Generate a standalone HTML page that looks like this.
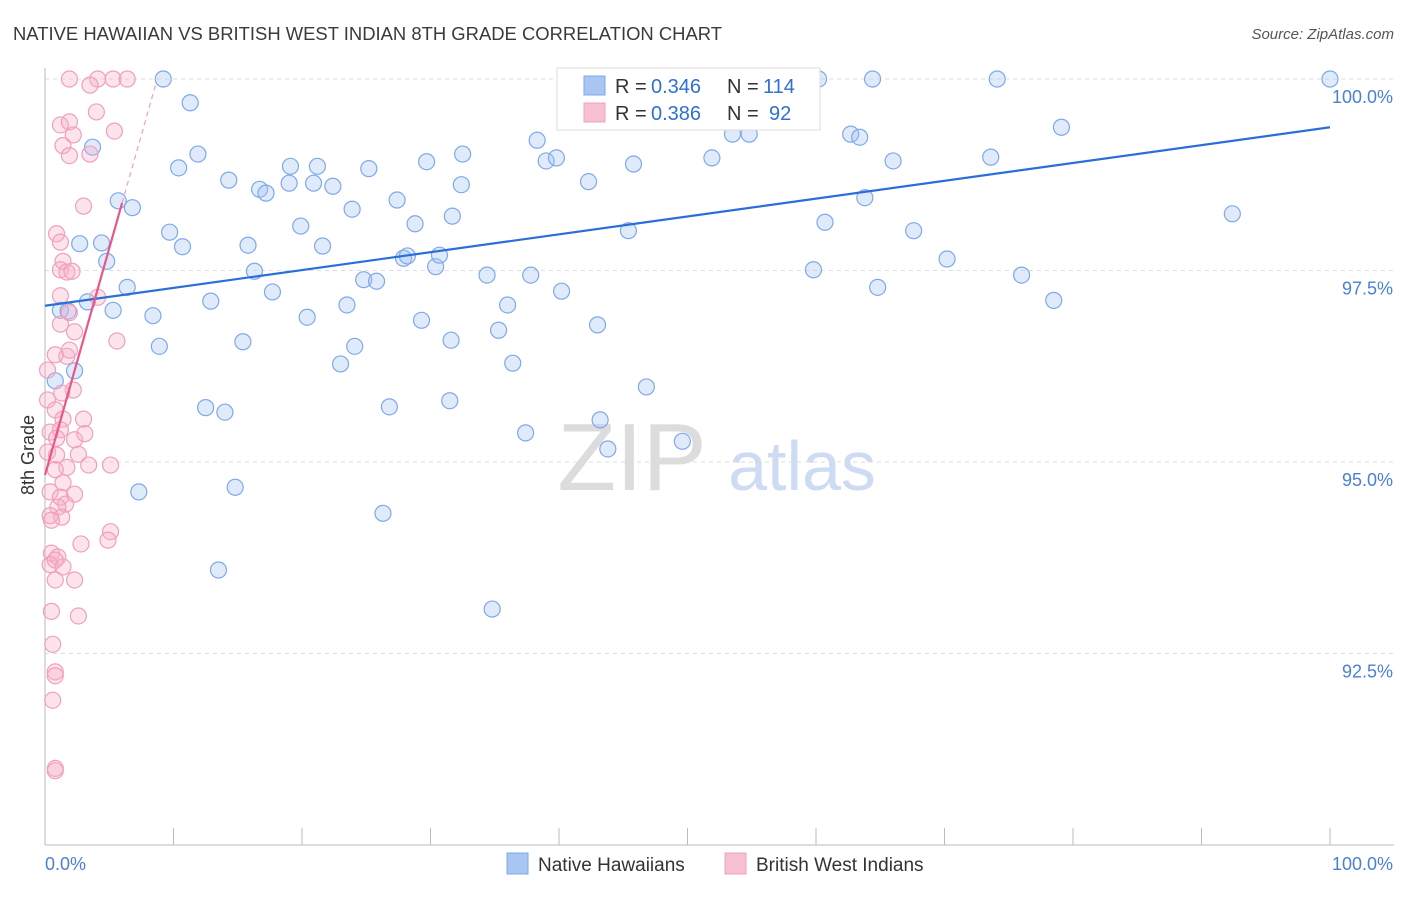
<!DOCTYPE html>
<html><head><meta charset="utf-8"><style>
body{margin:0;background:#fff;font-family:"Liberation Sans",sans-serif;}
svg text{font-family:"Liberation Sans",sans-serif;}
</style></head><body>
<svg id="c" width="1406" height="892">
<text x="13" y="40" font-size="18" fill="#3a3a3a" textLength="709" lengthAdjust="spacingAndGlyphs">NATIVE HAWAIIAN VS BRITISH WEST INDIAN 8TH GRADE CORRELATION CHART</text>
<text x="1394" y="39" font-size="15" fill="#555" text-anchor="end" font-style="italic">Source: ZipAtlas.com</text>
<g><text x="632" y="490" font-size="96" font-family="Liberation Serif" fill="#dcdcdc" text-anchor="middle">ZIP</text><text x="802" y="490" font-size="70" fill="#cddcf3" text-anchor="middle">atlas</text></g>
<g id="grid"></g><g id="axes"></g><g id="marks"></g>
<text transform="translate(34,455) rotate(-90)" font-size="18" fill="#333" text-anchor="middle">8th Grade</text>
<g>
<rect x="557" y="68" width="263" height="62" fill="#fff" stroke="#ddd"/>
<rect x="584" y="76" width="21" height="19" fill="#a9c6f3" stroke="#7fa9e8"/>
<rect x="584" y="103" width="21" height="19" fill="#f7bfd2" stroke="#f0a0bc"/>
<text x="615" y="93" font-size="20" fill="#333">R =</text>
<text x="651" y="93" font-size="20" fill="#2f6fd6">0.346</text>
<text x="727" y="93" font-size="20" fill="#333">N =</text>
<text x="763" y="93" font-size="20" fill="#2f6fd6">114</text>
<text x="615" y="120" font-size="20" fill="#333">R =</text>
<text x="651" y="120" font-size="20" fill="#2f6fd6">0.386</text>
<text x="727" y="120" font-size="20" fill="#333">N =</text>
<text x="769" y="120" font-size="20" fill="#2f6fd6">92</text>
</g>
<g>
<rect x="507" y="853" width="21" height="21" fill="#a9c6f3" stroke="#7fa9e8"/>
<text x="538" y="871" font-size="19" fill="#333">Native Hawaiians</text>
<rect x="725" y="853" width="21" height="21" fill="#f7bfd2" stroke="#f0a0bc"/>
<text x="756" y="871" font-size="19" fill="#333">British West Indians</text>
</g>
</svg>
<script>
const yTicks=[100,97.5,95,92.5];
const yTickLabels=["100.0%","97.5%","95.0%","92.5%"];
const xTicks=[0,10,20,30,40,50,60,70,80,90,100];
const xTickLabels=["0.0%","100.0%"];
const blueX=[9.2,11.3,3.7,10.4,11.9,14.3,16.7,17.2,19.0,19.1,20.9,21.2,22.4,25.2,27.4,29.7,32.5,32.4,38.3,39.0,39.8,42.3,45.8,51.9,53.5,54.8,62.7,63.4,66.0,73.6,79.1,92.4,41.6,46.3,47.9,51.0,59.4,60.2,64.4,74.1,100,5.7,6.8,2.7,4.4,9.7,10.7,15.8,19.9,21.6,23.9,28.8,31.7,45.4,60.7,63.8,67.6,70.2,76.0,78.5,64.8,59.8,4.8,6.4,1.2,1.8,3.3,5.3,8.4,8.9,12.9,15.4,16.3,17.7,20.4,23.5,24.1,24.8,25.8,27.9,28.2,29.3,30.4,30.7,31.6,34.4,35.3,36.0,36.4,37.8,40.2,43.0,46.8,23.0,2.3,0.8,12.5,14.0,26.8,31.5,37.4,43.2,43.8,49.6,7.3,14.8,26.3,13.5,34.8];
const blueY=[100,99.69,99.11,98.84,99.02,98.68,98.56,98.51,98.64,98.86,98.64,98.86,98.60,98.83,98.42,98.92,99.02,98.62,99.20,98.93,98.97,98.66,98.89,98.97,99.28,99.28,99.28,99.24,98.93,98.98,99.37,98.24,100,100,100,100,100,100,100,100,100,98.41,98.32,97.85,97.86,98.00,97.81,97.83,98.08,97.82,98.30,98.11,98.21,98.02,98.13,98.45,98.02,97.65,97.44,97.11,97.28,97.51,97.62,97.28,96.98,96.97,97.09,96.98,96.91,96.51,97.10,96.57,97.49,97.22,96.89,97.05,96.51,97.38,97.36,97.66,97.69,96.85,97.55,97.70,96.59,97.44,96.72,97.05,96.29,97.44,97.23,96.79,95.98,96.28,96.19,96.06,95.71,95.65,95.72,95.80,95.38,95.55,95.17,95.27,94.61,94.67,94.33,93.59,93.08];
const pinkX=[1.9,4.1,5.3,6.4,3.5,4.0,1.2,1.9,2.2,5.4,1.4,1.9,3.5,3.0,0.9,1.2,1.4,1.2,1.7,2.1,1.2,4.1,1.9,1.2,2.3,1.7,0.8,1.9,5.6,0.2,2.2,1.3,0.2,0.8,1.4,3.0,0.4,1.2,0.9,2.3,3.1,0.2,0.9,2.6,1.7,3.4,5.1,0.8,1.4,0.4,1.2,2.3,1.6,1.0,0.4,1.3,0.5,2.8,5.1,4.9,0.5,1.0,0.4,0.8,1.4,2.3,0.8,0.5,2.6,0.6,0.8,0.8,0.6,0.8,0.8];
const pinkY=[100,100,100,100,99.92,99.57,99.40,99.44,99.27,99.32,99.13,99.00,99.02,98.34,97.98,97.87,97.62,97.51,97.48,97.49,97.17,97.15,96.95,96.80,96.70,96.38,96.40,96.46,96.58,96.20,95.94,95.90,95.81,95.68,95.56,95.56,95.39,95.42,95.31,95.29,95.37,95.13,95.09,95.10,94.93,94.96,94.96,94.90,94.73,94.61,94.54,94.58,94.45,94.41,94.30,94.28,94.24,93.93,94.09,93.98,93.81,93.76,93.66,93.72,93.63,93.46,93.46,93.05,92.99,92.62,92.26,92.21,91.89,91.00,90.97];
const blueLine=[97.04,99.37];
const pinkLine=[94.83,0.592];
const NS="http://www.w3.org/2000/svg";
const X=v=>45+v*12.85, Y=v=>79+(100-v)*76.6;
function mk(tag,attrs,parent){const e=document.createElementNS(NS,tag);for(const k in attrs)e.setAttribute(k,attrs[k]);document.getElementById(parent).appendChild(e);return e;}
yTicks.forEach((t,i)=>{
 const g=mk('line',{x1:45,x2:1394,y1:Y(t),y2:Y(t),stroke:'#ddd','stroke-dasharray':'4,4'},'grid');
 
 
 const l=mk('text',{x:1393,y:Y(t)+24,'font-size':18,fill:'#4a7fd8','text-anchor':'end'},'axes');
 l.textContent=yTickLabels[i];
 
 
});
const ax=mk('line',{x1:45,x2:45,y1:68,y2:845,stroke:'#bbb'},'axes');


const bx=mk('line',{x1:45,x2:1394,y1:845,y2:845,stroke:'#bbb'},'axes');


xTicks.forEach(t=>{
 const k=mk('line',{x1:X(t),x2:X(t),y1:828,y2:845,stroke:'#bbb'},'axes');
 
 
});
const xl0=mk('text',{x:45,y:870,'font-size':18,fill:'#4a7fd8'},'axes');xl0.textContent=xTickLabels[0];


const xl1=mk('text',{x:1393,y:870,'font-size':18,fill:'#4a7fd8','text-anchor':'end'},'axes');xl1.textContent=xTickLabels[1];


blueX.forEach((v,i)=>{
 const c=mk('circle',{cx:X(v),cy:Y(blueY[i]),r:8,fill:'rgba(164,194,244,0.35)',stroke:'#7fa9e8','stroke-width':1.2},'marks');
 
 
});
pinkX.forEach((v,i)=>{
 const c=mk('circle',{cx:X(v),cy:Y(pinkY[i]),r:8,fill:'rgba(246,176,200,0.35)',stroke:'#f0a0bc','stroke-width':1.2},'marks');
 
 
});
const bl=mk('line',{x1:X(0),y1:Y(blueLine[0]),x2:X(100),y2:Y(blueLine[1]),stroke:'#2a6fd8','stroke-width':2.2},'marks');


const pl=mk('line',{x1:X(0),y1:Y(pinkLine[0]),x2:X(6),y2:Y(pinkLine[0]+6*pinkLine[1]),stroke:'#e8578a','stroke-width':2.2},'marks');


const pd=mk('line',{x1:X(6),y1:Y(pinkLine[0]+6*pinkLine[1]),x2:X(8.6),y2:Y(pinkLine[0]+8.6*pinkLine[1]),stroke:'#f0a0bc','stroke-width':1.2,'stroke-dasharray':'5,4'},'marks');


</script>
</body></html>
